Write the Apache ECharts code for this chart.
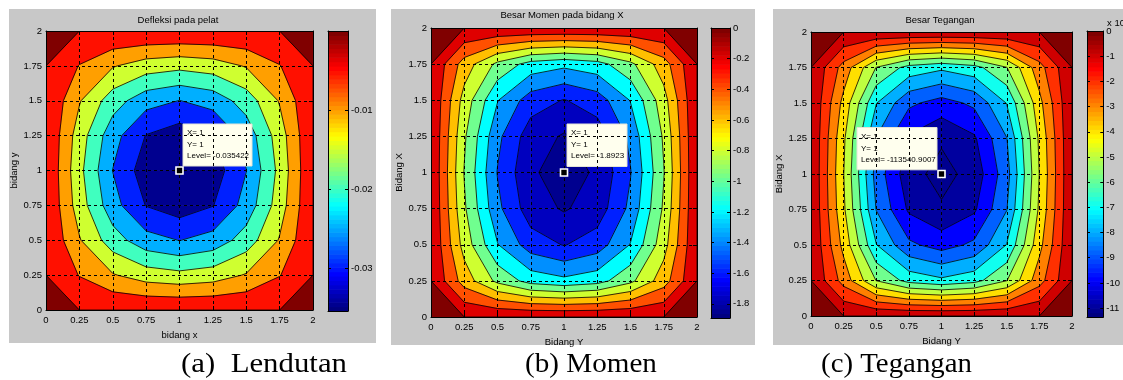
<!DOCTYPE html>
<html>
<head>
<meta charset="utf-8">
<script src="https://cdn.jsdelivr.net/npm/echarts@6/dist/echarts.min.js"></script>
<style>
  html, body { margin: 0; padding: 0; background: #fff; }
  #chart { width: 1123px; height: 380px; }
</style>
</head>
<body>
<div id="chart"></div>
<script>
// grid nodes of the plate (0 .. 2, step 0.25)
const xNodes = [0, 0.25, 0.5, 0.75, 1, 1.25, 1.5, 1.75, 2];
const yNodes = [0, 0.25, 0.5, 0.75, 1, 1.25, 1.5, 1.75, 2];

// (a) deflection, one row per y node (y = 0 first)
const lendutan = [
  [0, 0, 0, 0, 0, 0, 0, 0, 0],
  [0, -0.0052, -0.0096, -0.0125, -0.0136, -0.0125, -0.0096, -0.0052, 0],
  [0, -0.0096, -0.0177, -0.0231, -0.0251, -0.0231, -0.0177, -0.0096, 0],
  [0, -0.0125, -0.0231, -0.0302, -0.0327, -0.0302, -0.0231, -0.0125, 0],
  [0, -0.0136, -0.0251, -0.0327, -0.035422, -0.0327, -0.0251, -0.0136, 0],
  [0, -0.0125, -0.0231, -0.0302, -0.0327, -0.0302, -0.0231, -0.0125, 0],
  [0, -0.0096, -0.0177, -0.0231, -0.0251, -0.0231, -0.0177, -0.0096, 0],
  [0, -0.0052, -0.0096, -0.0125, -0.0136, -0.0125, -0.0096, -0.0052, 0],
  [0, 0, 0, 0, 0, 0, 0, 0, 0]
];
const lendutanLevels = [-0.035, -0.03, -0.025, -0.02, -0.015, -0.01, -0.005, 0];
const lendutanTicks = [-0.03, -0.02, -0.01];

// (b) moment
const momen = [
  [0, 0, 0, 0, 0, 0, 0, 0, 0],
  [0, -0.49, -0.85, -1.08, -1.15, -1.08, -0.85, -0.49, 0],
  [0, -0.68, -1.19, -1.50, -1.61, -1.50, -1.19, -0.68, 0],
  [0, -0.77, -1.35, -1.71, -1.82, -1.71, -1.35, -0.77, 0],
  [0, -0.81, -1.41, -1.77, -1.8923, -1.77, -1.41, -0.81, 0],
  [0, -0.77, -1.35, -1.71, -1.82, -1.71, -1.35, -0.77, 0],
  [0, -0.68, -1.19, -1.50, -1.61, -1.50, -1.19, -0.68, 0],
  [0, -0.49, -0.85, -1.08, -1.15, -1.08, -0.85, -0.49, 0],
  [0, 0, 0, 0, 0, 0, 0, 0, 0]
];
const momenLevels = [-1.8, -1.6, -1.4, -1.2, -1, -0.8, -0.6, -0.4, -0.2, 0];
const momenTicks = [-1.8, -1.6, -1.4, -1.2, -1, -0.8, -0.6, -0.4, -0.2, 0];

// (c) stress
const tegangan = [
  [0, 0, 0, 0, 0, 0, 0, 0, 0],
  [0, -23940, -50310, -63610, -68000, -63610, -50310, -23940, 0],
  [0, -33110, -69570, -87930, -94000, -87930, -69570, -33110, 0],
  [0, -38230, -80320, -101520, -108600, -101520, -80320, -38230, 0],
  [0, -39800, -84000, -106200, -113540.9007, -106200, -84000, -39800, 0],
  [0, -38230, -80320, -101520, -108600, -101520, -80320, -38230, 0],
  [0, -33110, -69570, -87930, -94000, -87930, -69570, -33110, 0],
  [0, -23940, -50310, -63610, -68000, -63610, -50310, -23940, 0],
  [0, 0, 0, 0, 0, 0, 0, 0, 0]
];
const teganganLevels = [-110000, -100000, -90000, -80000, -70000, -60000, -50000, -40000, -30000, -20000, -10000, 0];
const teganganTicks = [-110000, -100000, -90000, -80000, -70000, -60000, -50000, -40000, -30000, -20000, -10000, 0];

const FONT = '"Liberation Sans", Arial, sans-serif';

const panels = [
  {
    z: lendutan, levels: lendutanLevels, ticks: lendutanTicks, fmt: (v) => String(v),
    title: 'Defleksi pada pelat', titleX: 178, titleY: 20,
    xName: 'bidang x', yName: 'bidang y', xGap: 18, yGap: 27,
    bg: [9, 9, 367, 334],
    plot: { left: 46, top: 31, width: 267, height: 279 },
    bar: { left: 328, top: 31, width: 20, height: 280 },
    tip: { dx: 3.5, dy: -46.5, w: 69, h: 42 },
    caption: '(a)  Lendutan', capX: 264, capScale: 1.1
  },
  {
    z: momen, levels: momenLevels, ticks: momenTicks, fmt: (v) => String(v),
    title: 'Besar Momen pada bidang X', titleX: 562, titleY: 15,
    xName: 'Bidang Y', yName: 'Bidang X', xGap: 18, yGap: 27,
    bg: [391, 9, 364, 336],
    plot: { left: 431, top: 28, width: 266, height: 289 },
    bar: { left: 711, top: 28, width: 19, height: 290 },
    tip: { dx: 3, dy: -48.5, w: 60, h: 42.5 },
    caption: '(b) Momen', capX: 591, capScale: 1.04
  },
  {
    z: tegangan, levels: teganganLevels, ticks: teganganTicks, fmt: (v) => String(v / 10000),
    title: 'Besar Tegangan', titleX: 940, titleY: 20,
    xName: 'Bidang Y', yName: 'Bidang X', xGap: 18, yGap: 27,
    bg: [773, 9, 350, 336],
    plot: { left: 811, top: 32, width: 261, height: 284 },
    bar: { left: 1087, top: 31, width: 20, height: 286 },
    tip: { dx: -84.5, dy: -46.5, w: 80, h: 42.3 },
    caption: '(c) Tegangan', capX: 896.5, capScale: 1.03
  }
];

function jet(x) {
  const c = (v) => Math.round(255 * Math.max(0, Math.min(1, v)));
  return 'rgb(' + c(1.5 - Math.abs(4 * x - 3)) + ',' + c(1.5 - Math.abs(4 * x - 2)) + ',' + c(1.5 - Math.abs(4 * x - 1)) + ')';
}

// MATLAB jet(64) lookup
function jet64(x) {
  const k = Math.min(64, Math.floor(x * 64) + 1);
  return jet(k / 64);
}

function clip(poly, level, keepAbove) {
  const out = [];
  for (let k = 0; k < poly.length; k++) {
    const a = poly[k];
    const b = poly[(k + 1) % poly.length];
    const ina = keepAbove ? a[2] >= level : a[2] <= level;
    const inb = keepAbove ? b[2] >= level : b[2] <= level;
    if (ina) out.push(a);
    if (ina !== inb) {
      const t = (level - a[2]) / (b[2] - a[2]);
      out.push([a[0] + t * (b[0] - a[0]), a[1] + t * (b[1] - a[1]), level]);
    }
  }
  return out;
}

function area(pts) {
  let s = 0;
  for (let k = 0; k < pts.length; k++) {
    const a = pts[k], b = pts[(k + 1) % pts.length];
    s += a[0] * b[1] - b[0] * a[1];
  }
  return Math.abs(s / 2);
}

function crossings(q, level) {
  const pts = [];
  for (let k = 0; k < 4; k++) {
    const a = q[k], b = q[(k + 1) % 4];
    if ((a[2] >= level) !== (b[2] >= level)) {
      const t = (level - a[2]) / (b[2] - a[2]);
      pts.push([a[0] + t * (b[0] - a[0]), a[1] + t * (b[1] - a[1])]);
    }
  }
  return pts;
}

function contourItem(p, cmin, cmax) {
  const z = p.z, lv = p.levels;
  const bands = [];
  for (let b = 0; b <= lv.length; b++) {
    const c = b === 0 ? cmin : lv[b - 1];
    bands.push({
      lo: b === 0 ? -Infinity : lv[b - 1],
      hi: b === lv.length ? Infinity : lv[b],
      color: jet64((c - cmin) / (cmax - cmin))
    });
  }
  return function (params, api) {
    const i = api.value(2), j = api.value(3);
    const quad = [
      [xNodes[i], yNodes[j], z[j][i]],
      [xNodes[i + 1], yNodes[j], z[j][i + 1]],
      [xNodes[i + 1], yNodes[j + 1], z[j + 1][i + 1]],
      [xNodes[i], yNodes[j + 1], z[j + 1][i]]
    ];
    const children = [];
    bands.forEach((band, b) => {
      let poly = quad;
      if (band.lo > -Infinity) poly = clip(poly, band.lo, true);
      if (poly.length >= 3 && band.hi < Infinity) poly = clip(poly, band.hi, false);
      if (poly.length < 3) return;
      const pts = poly.map((q) => api.coord([q[0], q[1]]));
      if (area(pts) < 0.05) return;
      children.push({
        type: 'polygon', z2: b, silent: true,
        shape: { points: pts },
        style: { fill: band.color, stroke: band.color, lineWidth: 0.6 }
      });
    });
    lv.forEach((level) => {
      const seg = crossings(quad, level);
      for (let k = 0; k + 1 < seg.length; k += 2) {
        const a = api.coord(seg[k]), b = api.coord(seg[k + 1]);
        children.push({
          type: 'line', z2: 100, silent: true,
          shape: { x1: a[0], y1: a[1], x2: b[0], y2: b[1] },
          style: { stroke: '#000', lineWidth: 0.8 }
        });
      }
    });
    return { type: 'group', children: children };
  };
}

function barItem(cmin, cmax) {
  return function (params, api) {
    const children = [];
    for (let k = 0; k < 64; k++) {
      const v0 = cmin + (cmax - cmin) * k / 64;
      const v1 = cmin + (cmax - cmin) * (k + 1) / 64;
      const p0 = api.coord([api.value(0), v0]);
      const p1 = api.coord([api.value(2), v1]);
      children.push({
        type: 'rect', silent: true,
        shape: { x: p0[0], y: p1[1], width: p1[0] - p0[0], height: p0[1] - p1[1] + 0.6 },
        style: { fill: jet(k / 63) }
      });
    }
    return { type: 'group', children: children };
  };
}

function tipBoxItem(tip) {
  return function (params, api) {
    const c = api.coord([api.value(0), api.value(1)]);
    const bx = c[0] + tip.dx, by = c[1] + tip.dy;
    const lines = ['X= ' + api.value(0), 'Y= ' + api.value(1), 'Level= ' + api.value(2)];
    const offs = [9, 20.8, 32.2];
    const children = [{
      type: 'rect', silent: true,
      shape: { x: bx, y: by, width: tip.w, height: tip.h },
      style: { fill: '#ffffee', stroke: '#e4e4d6', lineWidth: 1 }
    }];
    lines.forEach((t, k) => {
      children.push({
        type: 'text', silent: true, x: bx + 4, y: by + offs[k],
        style: { text: t, font: '8px ' + FONT, fill: '#000', align: 'left', verticalAlign: 'middle', textAlign: 'left', textVerticalAlign: 'middle' }
      });
    });
    return { type: 'group', children: children };
  };
}

function markerItem(params, api) {
  const c = api.coord([api.value(0), api.value(1)]);
  return {
    type: 'rect', silent: true,
    shape: { x: c[0] - 3.5, y: c[1] - 3.5, width: 7, height: 7 },
    style: { fill: '#000', stroke: '#fff', lineWidth: 1.6 }
  };
}

const grid = [], xAxis = [], yAxis = [], series = [], graphic = [];
const label = { fontSize: 9.5, fontFamily: FONT, color: '#000' };
const axisLine = { show: true, onZero: false, lineStyle: { color: '#000', width: 1 } };
const noSplit = { show: false };

panels.forEach((p, n) => {
  const flat = p.z.flat();
  const cmin = Math.min(...flat), cmax = Math.max(...flat);
  let ci = 0, cj = 0;
  p.z.forEach((row, j) => row.forEach((v, i) => { if (v === cmin) { ci = i; cj = j; } }));

  const gi = n * 2, bi = n * 2 + 1, ai = n * 4;
  grid.push(Object.assign({}, p.plot));
  grid.push(Object.assign({}, p.bar));

  const tick = { show: true, inside: true, length: 4, lineStyle: { color: '#000' } };
  const split = { show: true, lineStyle: { color: '#000', width: 1, type: [3, 3] } };

  xAxis.push({
    type: 'value', gridIndex: gi, min: 0, max: 2, interval: 0.25, position: 'bottom', z: 5,
    axisLine: axisLine, axisTick: tick, splitLine: split,
    axisLabel: Object.assign({ margin: 5 }, label),
    name: p.xName, nameLocation: 'middle', nameGap: p.xGap, nameTextStyle: label
  });
  xAxis.push({
    type: 'value', gridIndex: gi, min: 0, max: 2, interval: 0.25, position: 'top', z: 5,
    axisLine: axisLine, axisTick: tick, splitLine: noSplit, axisLabel: { show: false }
  });
  xAxis.push({
    type: 'value', gridIndex: bi, min: 0, max: 1, position: 'bottom', z: 5,
    axisLine: axisLine, axisTick: { show: false }, splitLine: noSplit, axisLabel: { show: false }
  });
  xAxis.push({
    type: 'value', gridIndex: bi, min: 0, max: 1, position: 'top', z: 5,
    axisLine: axisLine, axisTick: { show: false }, splitLine: noSplit, axisLabel: { show: false }
  });

  yAxis.push({
    type: 'value', gridIndex: gi, min: 0, max: 2, interval: 0.25, position: 'left', z: 5,
    axisLine: axisLine, axisTick: tick, splitLine: split,
    axisLabel: Object.assign({ margin: 4 }, label),
    name: p.yName, nameLocation: 'middle', nameGap: p.yGap, nameTextStyle: label
  });
  yAxis.push({
    type: 'value', gridIndex: gi, min: 0, max: 2, interval: 0.25, position: 'right', z: 5,
    axisLine: axisLine, axisTick: tick, splitLine: noSplit, axisLabel: { show: false }
  });
  yAxis.push({
    type: 'value', gridIndex: bi, min: cmin, max: cmax, position: 'right', z: 5,
    axisLine: axisLine,
    axisTick: { show: true, inside: true, length: 3, customValues: p.ticks, lineStyle: { color: '#000' } },
    axisLabel: Object.assign({ margin: 3, customValues: p.ticks, formatter: p.fmt }, label),
    splitLine: noSplit
  });
  yAxis.push({
    type: 'value', gridIndex: bi, min: cmin, max: cmax, position: 'left', z: 5,
    axisLine: axisLine,
    axisTick: { show: true, inside: true, length: 3, customValues: p.ticks, lineStyle: { color: '#000' } },
    axisLabel: { show: false }, splitLine: noSplit
  });

  const cells = [];
  for (let j = 0; j < yNodes.length - 1; j++) {
    for (let i = 0; i < xNodes.length - 1; i++) {
      cells.push([xNodes[i], yNodes[j], i, j]);
    }
  }
  series.push({
    type: 'custom', coordinateSystem: 'cartesian2d', xAxisIndex: ai, yAxisIndex: ai,
    clip: true, silent: true, z: 2, encode: { x: 0, y: 1 },
    data: cells, renderItem: contourItem(p, cmin, cmax)
  });
  series.push({
    type: 'custom', coordinateSystem: 'cartesian2d', xAxisIndex: ai + 2, yAxisIndex: ai + 2,
    silent: true, z: 2, encode: { x: [0, 2], y: [1, 3] },
    data: [[0, cmin, 1, cmax]], renderItem: barItem(cmin, cmax)
  });
  series.push({
    type: 'custom', coordinateSystem: 'cartesian2d', xAxisIndex: ai, yAxisIndex: ai,
    silent: true, z: 3, encode: { x: 0, y: 1 },
    data: [[xNodes[ci], yNodes[cj], cmin]], renderItem: tipBoxItem(p.tip)
  });
  series.push({
    type: 'custom', coordinateSystem: 'cartesian2d', xAxisIndex: ai, yAxisIndex: ai,
    silent: true, z: 8, encode: { x: 0, y: 1 },
    data: [[xNodes[ci], yNodes[cj], cmin]], renderItem: markerItem
  });

  graphic.push({
    type: 'rect', z: 0, silent: true,
    shape: { x: p.bg[0], y: p.bg[1], width: p.bg[2], height: p.bg[3] },
    style: { fill: '#c8c8c8' }
  });
  graphic.push({
    type: 'text', z: 1, silent: true, x: p.titleX, y: p.titleY,
    style: { text: p.title, font: '9.5px ' + FONT, fill: '#000', align: 'center', verticalAlign: 'middle', textAlign: 'center', textVerticalAlign: 'middle' }
  });
  graphic.push({
    type: 'text', z: 1, silent: true, x: p.capX, y: 365, scaleX: p.capScale,
    style: { text: p.caption, font: '28px "Liberation Serif", "Times New Roman", serif', fill: '#000', align: 'center', verticalAlign: 'middle', textAlign: 'center', textVerticalAlign: 'middle' }
  });
});

graphic.push({
  type: 'text', z: 1, silent: true, x: 1107, y: 23,
  style: { text: 'x 10', font: '9.5px ' + FONT, fill: '#000', align: 'left', verticalAlign: 'middle', textAlign: 'left', textVerticalAlign: 'middle' }
});

const chart = echarts.init(document.getElementById('chart'), null, { renderer: 'canvas' });
chart.setOption({
  animation: false,
  backgroundColor: '#fff',
  grid: grid,
  xAxis: xAxis,
  yAxis: yAxis,
  series: series,
  graphic: graphic
});
</script>
</body>
</html>
